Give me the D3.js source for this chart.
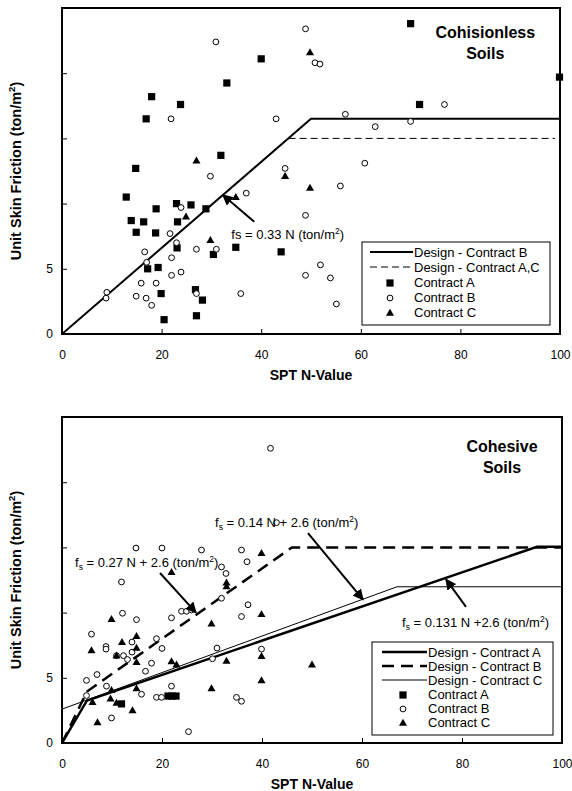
<!DOCTYPE html>
<html><head><meta charset="utf-8">
<script src="https://cdn.jsdelivr.net/npm/d3@7"></script>
<style>
body{margin:0;background:#fff}
svg{display:block;font-family:"Liberation Sans",Arial,sans-serif}
</style>
</head><body>
<svg id="c" width="572" height="791"></svg>
<script>
// ---------------- data ----------------
const nTicks = [0, 20, 40, 60, 80, 100];
const fsTicks = [0, 5, 10, 15, 20];
const fsTickLabels = ["0", "5", "", "", ""];
const xTitle = "SPT N-Value";
const yTitle = "Unit Skin Friction (ton/m";

// Cohesionless soils (top)
const topContractA = [[40.0,21.1],[33.1,19.25],[18.0,18.2],[23.8,17.6],[16.9,16.5],[31.9,13.7],[14.8,12.7],[12.9,10.5],[18.9,9.6],[23.0,10.0],[25.9,9.9],[28.9,9.6],[13.9,8.7],[16.4,8.6],[23.2,8.6],[14.9,7.8],[18.8,7.75],[23.1,6.6],[30.4,6.1],[34.9,6.65],[44.0,6.3],[17.2,5.0],[19.3,5.1],[19.9,3.1],[26.8,3.4],[28.2,2.6],[27.0,1.4],[20.5,1.1],[70.0,23.8],[99.9,19.7],[71.8,17.6]];
const topContractB = [[30.9,22.4],[21.9,16.5],[43.0,16.5],[29.8,12.1],[44.8,12.7],[37.0,10.8],[23.9,9.7],[21.7,7.7],[23.0,7.0],[16.6,6.3],[27.0,6.5],[31.0,6.5],[22.0,5.85],[17.0,5.5],[23.9,4.75],[22.0,4.5],[15.9,3.9],[18.9,3.9],[9.0,3.2],[8.85,2.75],[14.9,2.9],[16.9,2.75],[18.0,2.2],[27.0,3.1],[35.9,3.1],[48.9,23.4],[50.8,20.8],[51.8,20.7],[76.8,17.6],[56.9,16.85],[62.9,15.9],[70.0,16.3],[60.8,13.1],[55.9,11.35],[48.9,9.1],[51.9,5.3],[48.9,4.5],[53.9,4.3],[55.1,2.3]];
const topContractC = [[27.0,13.3],[44.8,12.1],[34.9,10.5],[24.9,9.0],[29.8,7.2],[49.8,21.6],[49.8,11.2]];
const topDesignB = [[0,0],[50,16.5],[100,16.5]];
const topDesignAC = [[45.5,15],[99,15]];
const topLegendLabels = ["Design - Contract B", "Design - Contract A,C", "Contract A", "Contract B", "Contract C"];
const topTitle = ["Cohisionless", "Soils"];
const topNote = "0.33 N";

// Cohesive soils (bottom)
const botContractA = [[11.9,3.0],[21.2,3.6],[22.0,3.6],[22.8,3.6]];
const botContractB = [[41.7,22.6],[42.9,16.9],[14.8,14.95],[20.0,14.95],[27.9,14.8],[35.9,14.8],[37.0,13.9],[31.9,13.5],[32.8,13.0],[11.9,12.35],[31.9,11.1],[37.2,10.6],[23.9,10.1],[24.9,10.1],[25.9,10.2],[12.1,9.95],[14.9,9.46],[21.9,9.6],[35.9,9.7],[5.9,8.35],[14.0,7.74],[18.9,8.0],[8.8,7.4],[8.8,7.2],[20.0,7.25],[31.0,7.28],[12.3,6.7],[13.1,6.4],[10.9,6.7],[14.0,6.97],[17.9,6.12],[30.1,6.46],[39.9,7.2],[16.7,5.5],[7.0,5.25],[4.9,4.8],[8.9,4.36],[21.9,4.36],[4.9,3.64],[15.9,3.74],[18.9,3.5],[19.9,3.5],[34.9,3.5],[35.9,3.2],[9.9,1.92],[25.3,0.87]];
const botContractC = [[39.9,14.56],[21.9,13.1],[32.9,12.3],[32.9,12.0],[39.9,9.87],[9.9,9.5],[29.9,9.15],[14.9,8.2],[12.0,7.74],[5.9,7.1],[14.9,7.3],[10.9,6.7],[14.9,6.2],[21.9,6.25],[22.9,6.0],[32.9,6.3],[39.9,6.66],[39.9,4.8],[14.9,4.18],[29.9,4.18],[9.9,4.05],[9.7,3.4],[6.1,3.13],[10.9,3.08],[14.1,2.5],[7.1,1.58],[50.0,6.0]];
const botDesignA = [[0,0],[5,3.26],[95,15.05],[100,15.05]];
const botDesignB = [[0,0],[5,3.95],[46,15.0],[100,15.0]];
const botDesignC = [[0,2.6],[67,11.98],[100,11.98]];
const botLegendLabels = ["Design - Contract A", "Design - Contract B", "Design - Contract C", "Contract A", "Contract B", "Contract C"];
const botTitle = ["Cohesive", "Soils"];
const botNotes = ["0.27 N + 2.6", "0.14 N + 2.6", "0.131 N +2.6"];

// ---------------- drawing ----------------
const svg = d3.select("#c");
const defs = svg.append("defs");
defs.append("marker").attr("id","ah").attr("viewBox","0 0 10 10").attr("refX",9).attr("refY",5)
  .attr("markerWidth",11).attr("markerHeight",11).attr("markerUnits","userSpaceOnUse").attr("orient","auto")
  .append("path").attr("d","M0,0 L10,5 L0,10 Z").attr("fill","#000");

const symSquare = d3.symbol().type(d3.symbolSquare).size(52);
const symTri = d3.symbol().type(d3.symbolTriangle).size(28);

function drawMarker(g, kind, px, py) {
  if (kind === "A") g.append("path").attr("d", symSquare()).attr("transform", `translate(${px},${py})`).attr("fill","#000");
  else if (kind === "B") g.append("circle").attr("cx",px).attr("cy",py).attr("r",2.9).attr("fill","#fff").attr("stroke","#000").attr("stroke-width",1);
  else g.append("path").attr("d", symTri()).attr("transform", `translate(${px},${py+0.5})`).attr("fill","#000");
}

function unitText(sel, prefix, value, sub) {
  sel.append("tspan").text(prefix);
  if (sub) { sel.append("tspan").attr("font-size","8.5px").attr("dy",3).text("s"); sel.append("tspan").attr("dy",-3).text(" = " + value + " (ton/m"); }
  else sel.append("tspan").text("s = " + value + " (ton/m");
  sel.append("tspan").attr("font-size","8.5px").attr("dy",-5).text("2");
  sel.append("tspan").attr("dy",5).text(")");
}

function panel(cfg) {
  const g = svg.append("g");
  const x = d3.scaleLinear().domain([0,100]).range([cfg.left, cfg.right]);
  const y = d3.scaleLinear().domain([0,25]).range([cfg.bottom, cfg.top]);
  const clipId = "clip" + cfg.id;
  defs.append("clipPath").attr("id", clipId).append("rect")
    .attr("x", cfg.left).attr("y", cfg.top).attr("width", cfg.right - cfg.left).attr("height", cfg.bottom - cfg.top);

  const xa = g.append("g").attr("transform", `translate(0,${cfg.bottom})`)
    .call(d3.axisBottom(x).tickValues(nTicks).tickSize(-5).tickPadding(16).tickFormat(d3.format("d")));
  const ya = g.append("g").attr("transform", `translate(${cfg.left},0)`)
    .call(d3.axisLeft(y).tickValues(fsTicks).tickSize(-5).tickPadding(9).tickFormat((d,i) => fsTickLabels[i]));
  [xa, ya].forEach(a => {
    a.select(".domain").remove();
    a.selectAll("line").attr("stroke","#000").attr("stroke-width",1);
    a.selectAll("text").attr("font-size","12px").attr("font-family","Liberation Sans, Arial, sans-serif").attr("fill","#000");
  });

  const lg = g.append("g").attr("clip-path", `url(#${clipId})`);
  const line = d3.line().x(d => x(d[0])).y(d => y(d[1]));
  cfg.lines.forEach(l => {
    lg.append("path").attr("d", line(l.data)).attr("fill","none").attr("stroke","#000")
      .attr("stroke-width", l.w).attr("stroke-dasharray", l.dash || null);
  });

  const pg = g.append("g");
  cfg.points.forEach(s => s.data.forEach(d => drawMarker(pg, s.kind, x(d[0]), y(d[1]))));

  g.append("rect").attr("x", cfg.left).attr("y", cfg.top).attr("width", cfg.right - cfg.left)
    .attr("height", cfg.bottom - cfg.top).attr("fill","none").attr("stroke","#000").attr("stroke-width",2);

  g.append("text").attr("x", (cfg.left + cfg.right)/2).attr("y", cfg.bottom + 46)
    .attr("text-anchor","middle").attr("font-weight","bold").attr("font-size","14px").text(xTitle);
  const yt = g.append("text").attr("transform", `translate(${cfg.ytx},${(cfg.top + cfg.bottom)/2}) rotate(-90)`)
    .attr("text-anchor","middle").attr("font-weight","bold").attr("font-size","14.5px");
  yt.append("tspan").text(yTitle);
  yt.append("tspan").attr("font-size","9.5px").attr("dy",-6).text("2");
  yt.append("tspan").attr("dy",6).text(")");

  cfg.title.forEach((t,i) => g.append("text").attr("x", x(cfg.titleN)).attr("y", cfg.top + cfg.titleY + i*21)
    .attr("text-anchor","middle").attr("font-weight","bold").attr("font-size","16px").text(t));

  cfg.notes.forEach(n => {
    g.append("line").attr("x1", x(n.from[0])).attr("y1", y(n.from[1])).attr("x2", x(n.to[0])).attr("y2", y(n.to[1]))
      .attr("stroke","#000").attr("stroke-width",2).attr("marker-end","url(#ah)");
    const t = g.append("text").attr("x", x(n.at[0])).attr("y", y(n.at[1])).attr("font-size", "13px");
    unitText(t, "f", n.text, n.sub);
  });

  const L = cfg.legend;
  const leg = g.append("g");
  leg.append("rect").attr("x", L.x).attr("y", L.y).attr("width", L.w).attr("height", L.h)
    .attr("fill","#fff").attr("stroke","#000").attr("stroke-width",1);
  cfg.legendLabels.forEach((lab, i) => {
    const cy = L.y + L.first + i * L.step;
    const item = L.items[i];
    if (item.line) {
      leg.append("line").attr("x1", L.lx0).attr("x2", L.lx1).attr("y1", cy).attr("y2", cy)
        .attr("stroke","#000").attr("stroke-width", item.line.w).attr("stroke-dasharray", item.line.dash || null);
    } else drawMarker(leg, item.kind, L.mx, cy + 1);
    leg.append("text").attr("x", L.tx).attr("y", cy).attr("dy","0.35em").attr("font-size","13px").text(lab);
  });
  return {x, y};
}

const topLineStyles = [{w:2}, {w:1, dash:"7,4"}];
panel({
  id: "top", left: 62, right: 560, top: 8, bottom: 334, ytx: 21,
  lines: [{data: topDesignB, ...topLineStyles[0]}, {data: topDesignAC, ...topLineStyles[1]}],
  points: [{kind:"A", data: topContractA}, {kind:"B", data: topContractB}, {kind:"C", data: topContractC}],
  title: topTitle, titleN: 85, titleY: 30,
  notes: [{from:[38.6,8.6], to:[32.3,10.66], at:[34.0,7.3], text: topNote, sub:false}],
  legendLabels: topLegendLabels,
  legend: {x:362, y:242, w:188, h:83, first:10, step:15, lx0:370, lx1:413, mx:390, tx:414,
    items:[{line:topLineStyles[0]}, {line:topLineStyles[1]}, {kind:"A"}, {kind:"B"}, {kind:"C"}]}
});

const botLineStyles = [{w:2.5}, {w:2.5, dash:"12,7"}, {w:1}];
panel({
  id: "bot", left: 62, right: 562, top: 417, bottom: 743, ytx: 21,
  lines: [{data: botDesignA, ...botLineStyles[0]}, {data: botDesignB, ...botLineStyles[1]}, {data: botDesignC, ...botLineStyles[2]}],
  points: [{kind:"A", data: botContractA}, {kind:"B", data: botContractB}, {kind:"C", data: botContractC}],
  title: botTitle, titleN: 88, titleY: 35,
  notes: [
    {from:[19.6,13.04], to:[26.8,10.0], at:[2.6,13.5], text: botNotes[0], sub:true},
    {from:[49.2,16.1], to:[60.2,11.0], at:[30.6,16.56], text: botNotes[1], sub:true},
    {from:[80.8,10.44], to:[76.8,12.55], at:[68.0,8.9], text: botNotes[2], sub:true}
  ],
  legendLabels: botLegendLabels,
  legend: {x:372, y:642, w:181, h:93, first:10, step:14, lx0:382, lx1:427, mx:403, tx:428,
    items:[{line:botLineStyles[0]}, {line:botLineStyles[1]}, {line:botLineStyles[2]}, {kind:"A"}, {kind:"B"}, {kind:"C"}]}
});
</script>
</body></html>
